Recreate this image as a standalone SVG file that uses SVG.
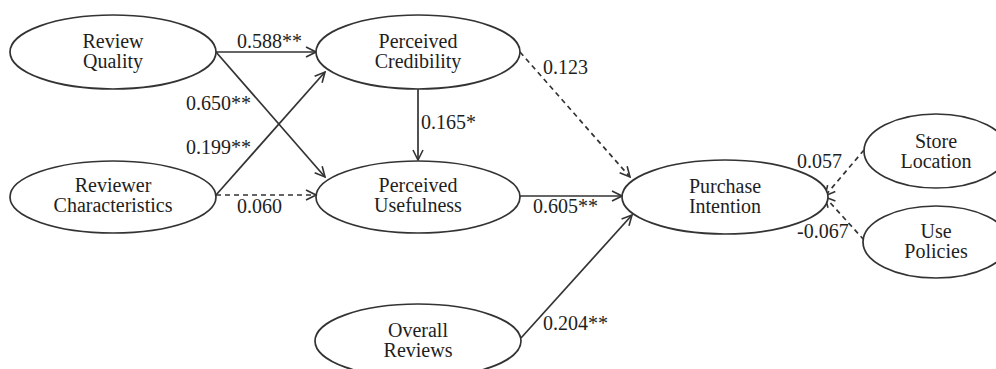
<svg xmlns="http://www.w3.org/2000/svg" width="996" height="369" viewBox="0 0 996 369">
<style>
  .node ellipse { fill: #ffffff; stroke: #333333; stroke-width: 1.7; }
  text { font-family: 'Liberation Serif', 'Times New Roman', serif; font-size: 20px; fill: #1e1e1e; }
  .node text { text-anchor: middle; }
  .edge { fill: none; stroke: #333333; stroke-width: 1.7; marker-end: url(#arr); }
  .dash { stroke-dasharray: 5 4; }
</style>
<defs>
  <marker id="arr" viewBox="0 0 12 12" refX="11" refY="6" markerWidth="12" markerHeight="12" markerUnits="userSpaceOnUse" orient="auto">
    <path d="M1,1 L11,6 L1,11" fill="none" stroke="#333333" stroke-width="1.6"/>
  </marker>
</defs>
<rect width="996" height="369" fill="#ffffff"/>
<g id="connectors">
  <line class="edge" x1="216" y1="52" x2="316" y2="52"/>
  <line class="edge" x1="216" y1="52" x2="325" y2="177"/>
  <line class="edge" x1="216" y1="195" x2="325" y2="72"/>
  <line class="edge dash" x1="216" y1="195" x2="316" y2="195"/>
  <line class="edge" x1="418" y1="89" x2="418" y2="160"/>
  <line class="edge dash" x1="520" y1="52" x2="630" y2="177"/>
  <line class="edge" x1="520" y1="196" x2="622" y2="196"/>
  <line class="edge" x1="521" y1="338" x2="632" y2="215"/>
  <line class="edge dash" x1="864" y1="150" x2="825" y2="196"/>
  <line class="edge dash" x1="864" y1="240" x2="825" y2="197"/>
  <text x="237" y="48">0.588**</text>
  <text x="186" y="110">0.650**</text>
  <text x="186" y="154">0.199**</text>
  <text x="237" y="213">0.060</text>
  <text x="421" y="129">0.165*</text>
  <text x="543" y="74">0.123</text>
  <text x="533" y="213">0.605**</text>
  <text x="797" y="168">0.057</text>
  <text x="797" y="238">-0.067</text>
  <text x="543" y="330">0.204**</text>
</g>
<g id="review-quality" class="node">
  <ellipse cx="113" cy="52" rx="103" ry="37"/>
  <text x="113" y="48">Review</text>
  <text x="113" y="68">Quality</text>
</g>
<g id="reviewer-characteristics" class="node">
  <ellipse cx="113" cy="197" rx="103" ry="36"/>
  <text x="113" y="192">Reviewer</text>
  <text x="113" y="212">Characteristics</text>
</g>
<g id="perceived-credibility" class="node">
  <ellipse cx="418" cy="52" rx="102" ry="37"/>
  <text x="418" y="48">Perceived</text>
  <text x="418" y="68">Credibility</text>
</g>
<g id="perceived-usefulness" class="node">
  <ellipse cx="418" cy="197" rx="102" ry="36"/>
  <text x="418" y="192">Perceived</text>
  <text x="418" y="212">Usefulness</text>
</g>
<g id="purchase-intention" class="node">
  <ellipse cx="725" cy="197" rx="103" ry="37"/>
  <text x="725" y="193">Purchase</text>
  <text x="725" y="213">Intention</text>
</g>
<g id="store-location" class="node">
  <ellipse cx="936" cy="151" rx="72" ry="37"/>
  <text x="936" y="148">Store</text>
  <text x="936" y="168">Location</text>
</g>
<g id="use-policies" class="node">
  <ellipse cx="936" cy="242" rx="73" ry="36"/>
  <text x="936" y="238">Use</text>
  <text x="936" y="258">Policies</text>
</g>
<g id="overall-reviews" class="node">
  <ellipse cx="418" cy="341" rx="103" ry="37"/>
  <text x="418" y="337">Overall</text>
  <text x="418" y="357">Reviews</text>
</g>
</svg>
